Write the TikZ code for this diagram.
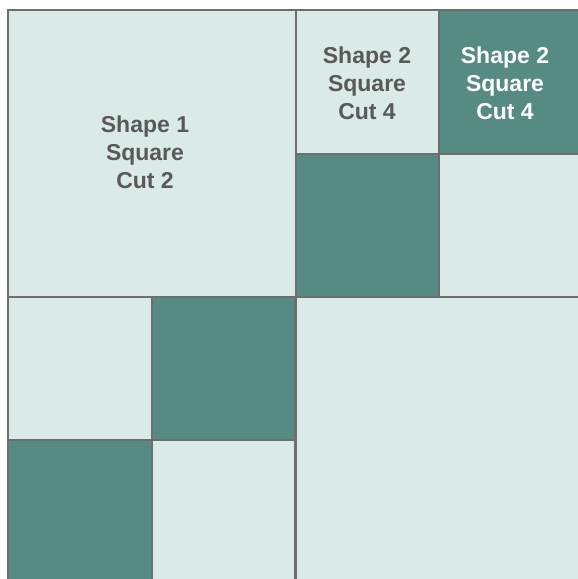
\documentclass[tikz,border=0pt]{standalone}
\usepackage{fontspec}
\setmainfont{Liberation Sans}
\usetikzlibrary{positioning}
\definecolor{paletile}{HTML}{DAEAE6}
\definecolor{deeptile}{HTML}{568B84}
\definecolor{edgegray}{HTML}{6E6E6E}
\definecolor{labelgray}{HTML}{595959}
\tikzset{
  tile/.style={draw=edgegray, line width=2pt, anchor=north west, inner sep=0pt, outer sep=0pt},
  pale/.style={tile, fill=paletile},
  deep/.style={tile, fill=deeptile},
  cutlabel/.style={font=\bfseries\fontsize{23}{28}\selectfont, text=labelgray, align=center}
}
\begin{document}
\begin{tikzpicture}[x=1pt,y=-1pt]
\useasboundingbox (0,0) rectangle (578,579);
\fill[white] (0,0) rectangle (578,579);
\begin{scope}
\clip (0,0) rectangle (578,579);
% large squares
\node[pale, minimum width=287.5pt, minimum height=287pt] (shapeone) at (8,10) {};
\node[pale, minimum width=286.5pt, minimum height=286pt] (shapebig) at (295.5,297) {};
% quarter-cut squares
\foreach \x/\y/\kind/\name in {295.5/10/pale/cuta,439/10/deep/cutb,295.5/153.5/deep/cutc,439/153.5/pale/cutd,
  8/297/pale/cute,151.5/297/deep/cutf,8/440/deep/cutg,151.5/440/pale/cuth}
  \node[\kind, minimum width=143.5pt, minimum height=143.5pt] (\name) at (\x,\y) {};
\end{scope}
% labels
\node[cutlabel] (lblone) at (145,152) {Shape 1\\Square\\Cut 2};
\node[cutlabel] (lbltwo) at (367,83) {Shape 2\\Square\\Cut 4};
\node[cutlabel, text=white] (lblthree) at (505,83) {Shape 2\\Square\\Cut 4};
\end{tikzpicture}
\end{document}
